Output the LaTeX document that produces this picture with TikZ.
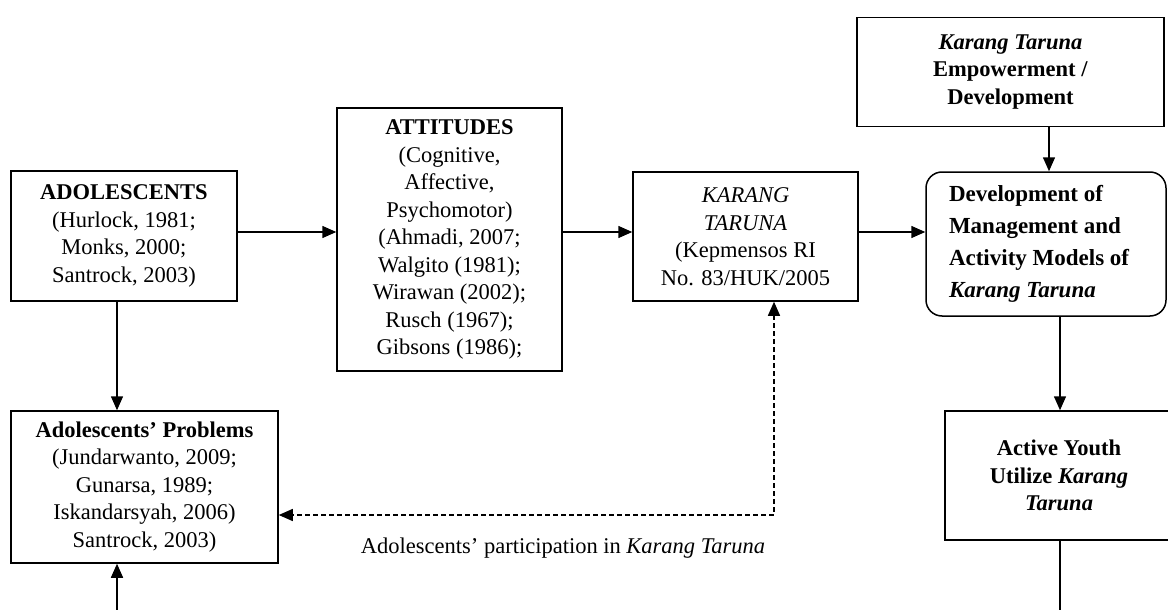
\documentclass[tikz,border=0pt]{standalone}
\usepackage{fontspec}
\setmainfont{Liberation Serif}
\usetikzlibrary{arrows.meta}
\begin{document}
\begin{tikzpicture}[x=1pt,y=-1pt,
  box/.style={draw, line width=1.5pt, align=center, inner sep=0pt,
    font=\fontsize{22.5}{27.5}\selectfont},
  tip/.style={Triangle[length=14pt,width=12pt]},
  arr/.style={line width=1.5pt, -{Triangle[length=14pt,width=12pt]}},
  darr/.style={line width=1.3pt, dash pattern=on 5pt off 3pt,
    {Triangle[length=14pt,width=12pt]}-{Triangle[length=14pt,width=12pt]}},
  lbl/.style={font=\fontsize{22.5}{27.5}\selectfont}
]
\useasboundingbox[fill=white] (0,0) rectangle (1168,610);

\node[box, minimum width=226pt, minimum height=130pt] (ado) at (124,236)
  {\textbf{ADOLESCENTS}\\(Hurlock, 1981;\\Monks, 2000;\\Santrock, 2003)};
\node[box, minimum width=225pt, minimum height=263pt] (att) at (449.5,239.5)
  {\textbf{ATTITUDES}\\(Cognitive,\\Affective,\\Psychomotor)\\(Ahmadi, 2007;\\Walgito (1981);\\Wirawan (2002);\\Rusch (1967);\\Gibsons (1986);};
\node[box, minimum width=225pt, minimum height=129pt] (kt) at (745.5,236.5)
  {\textit{KARANG}\\\textit{TARUNA}\\(Kepmensos RI\\No. 83/HUK/2005};
\node[box, minimum width=307pt, minimum height=109pt] (emp) at (1010.5,72)
  {\textbf{\textit{Karang Taruna}}\\\textbf{Empowerment /}\\\textbf{Development}};
\node[box, rounded corners=16pt, align=flush left, text width=194pt,
  minimum width=240pt, minimum height=144pt,
  font=\fontsize{23}{32}\selectfont\bfseries] (dev) at (1046,244)
  {Development of\\Management and\\Activity Models of\\\textit{Karang Taruna}};
\node[box, minimum width=228pt, minimum height=129pt,
  font=\fontsize{22.5}{27.5}\selectfont\bfseries] (act) at (1059,475.5)
  {Active Youth\\Utilize \textit{Karang}\\\textit{Taruna}};
\node[box, minimum width=267pt, minimum height=152pt] (prob) at (144.5,487)
  {\textbf{Adolescents’ Problems}\\(Jundarwanto, 2009;\\Gunarsa, 1989;\\Iskandarsyah, 2006)\\Santrock, 2003)};

\node[lbl] (part) at (563,548) {Adolescents’ participation in \textit{Karang Taruna}};

\coordinate (r1) at (0,232);
\draw[arr] (ado.east |- r1) -- (att.west |- r1);
\draw[arr] (att.east |- r1) -- (kt.west |- r1);
\draw[arr] (kt.east |- r1) -- (dev.west |- r1);
\coordinate (c1) at (1049,0);
\draw[arr] (emp.south -| c1) -- (dev.north -| c1);
\coordinate (c2) at (1060,0);
\draw[arr] (dev.south -| c2) -- (act.north -| c2);
\coordinate (c3) at (117,0);
\draw[arr] (ado.south -| c3) -- (prob.north -| c3);
\coordinate (d1) at (774,515);
\draw[darr] (kt.south -| d1) -- (d1) -- (prob.east |- d1);
\coordinate (b1) at (1060,640);
\coordinate (b2) at (117,640);
\draw[arr] (act.south -| b1) -- (b1) -- (b2) -- (prob.south -| b2);
\end{tikzpicture}
\end{document}
